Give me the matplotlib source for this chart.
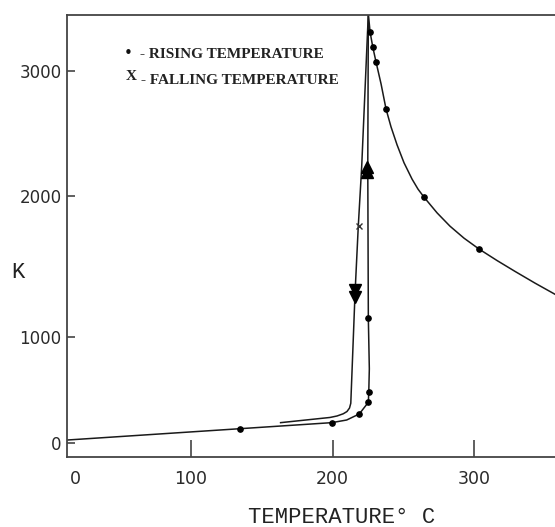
import numpy as np
import matplotlib.pyplot as plt

# rising temperature: curve below the transition (deg C, K)
rise_t = [-6.9, 134.6, 199.4, 210.0, 218.9, 225.3, 225.6, 226.0, 225.3, 224.9, 225.3]
rise_k = [28, 135, 192, 217, 274, 384, 478, 700, 1133, 2234, 3460]

# curve above the transition
above_t = [226.5, 228.4, 230.7, 234.3, 237.8, 241.3, 245.6, 250.5, 256.2, 260.4, 264.7,
           273.9, 283.0, 292.9, 303.5, 316.3, 329.0, 343.1, 357.2]
above_k = [3314, 3194, 3074, 2896, 2696, 2554, 2409, 2266, 2135, 2055, 1991,
           1880, 1786, 1701, 1624, 1542, 1465, 1382, 1303]

# measured points (rising temperature)
dot_t = [134.6, 199.4, 218.9, 225.3, 225.6, 225.3, 226.5, 228.4, 230.7, 237.8, 264.7, 303.5]
dot_k = [135, 192, 274, 384, 478, 1133, 3314, 3194, 3074, 2696, 1991, 1624]

# falling temperature branch
fall_t = [225.3, 220.6, 218.2, 215.9, 212.9, 212.0, 210.2, 207.6, 203.2, 198.2, 163.3]
fall_k = [3460, 2234, 1787, 1310, 375, 330, 297, 276, 255, 241, 192]
fall_x_t, fall_x_k = [218.4], [1784]

# direction arrows
up_t, up_k = [224.7, 224.7], [2234, 2195]
down_t, down_k = [215.9, 215.7], [1333, 1286]

xticks = [0, 100, 200, 300]
yticks = [0, 1000, 2000, 3000]

# the original axes are not evenly spaced, so use a piecewise scale
x_nodes = [-200, 0, 100, 200, 300, 600]
x_pos = [-232, 0, 116, 257.5, 399, 823.5]
y_nodes = [-2000, 0, 1000, 2000, 3000, 6000]
y_pos = [-212, 0, 106, 247, 372, 747]


def fx(v):
    return np.interp(v, x_nodes, x_pos)


def ix(v):
    return np.interp(v, x_pos, x_nodes)


def fy(v):
    return np.interp(v, y_nodes, y_pos)


def iy(v):
    return np.interp(v, y_pos, y_nodes)


fig = plt.figure(figsize=(5.55, 5.27), dpi=100)
ax = fig.add_axes([67 / 555, 70 / 527, 488 / 555, 442 / 527])
ax.set_xscale('function', functions=(fx, ix))
ax.set_yscale('function', functions=(fy, iy))

lc = '#1a1a1a'
ax.plot(rise_t + above_t, rise_k + above_k, color=lc, lw=1.1)
ax.plot(fall_t, fall_k, color=lc, lw=1.1)
ax.plot(dot_t, dot_k, 'o', color='black', ms=3.8)
ax.plot(up_t, up_k, '^', color='black', ms=8)
ax.plot(down_t, down_k, 'v', color='black', ms=8)
ax.plot(fall_x_t, fall_x_k, 'x', color='#333333', ms=5, mew=1.0)

ax.set_xlim(-6.9, 357.2)
ax.set_ylim(-132, 3448)

for side in ['left', 'bottom', 'top']:
    ax.spines[side].set_color('#444444')
    ax.spines[side].set_linewidth(1.3)
ax.spines['right'].set_visible(False)

ax.set_xticks(xticks)
ax.set_xticklabels([str(v) for v in xticks])
ax.set_yticks(yticks)
ax.set_yticklabels([str(v) for v in yticks])
ax.minorticks_off()
ax.tick_params(axis='x', direction='in', length=12, width=1.2, color='#444444',
               labelsize=12.5, labelcolor='#2a2a2a', pad=9, top=False)
ax.tick_params(axis='y', direction='in', length=6, width=1.2, color='#444444',
               labelsize=12, labelcolor='#2a2a2a', pad=4, right=False)
ax.xaxis.get_major_ticks()[0].tick1line.set_visible(False)
for lab in ax.get_xticklabels() + ax.get_yticklabels():
    lab.set_family('DejaVu Sans')

ax.set_xlabel('TEMPERATURE° C', family='Liberation Mono', fontsize=16, color='#222222',
              va='center')
ax.xaxis.set_label_coords(0.5635, -0.138)
fig.text(18 / 555, 1 - 272 / 527, 'K', family='Liberation Mono', fontsize=16,
         color='#222222', ha='center', va='center')

# legend drawn as text, as in the original
fig.text(128 / 555, 1 - 53 / 527, '•', fontsize=11, ha='center', va='center', color='#111111')
fig.text(140 / 555, 1 - 54 / 527, '- RISING TEMPERATURE', family='Liberation Serif',
         fontweight='bold', fontsize=11, ha='left', va='center', color='#222222')
fig.text(131 / 555, 1 - 77 / 527, 'X', family='Liberation Serif', fontweight='bold',
         fontsize=11, ha='center', va='center', color='#222222')
fig.text(141 / 555, 1 - 80 / 527, '- FALLING TEMPERATURE', family='Liberation Serif',
         fontweight='bold', fontsize=11, ha='left', va='center', color='#222222')

fig.savefig('out.png', dpi=100)
